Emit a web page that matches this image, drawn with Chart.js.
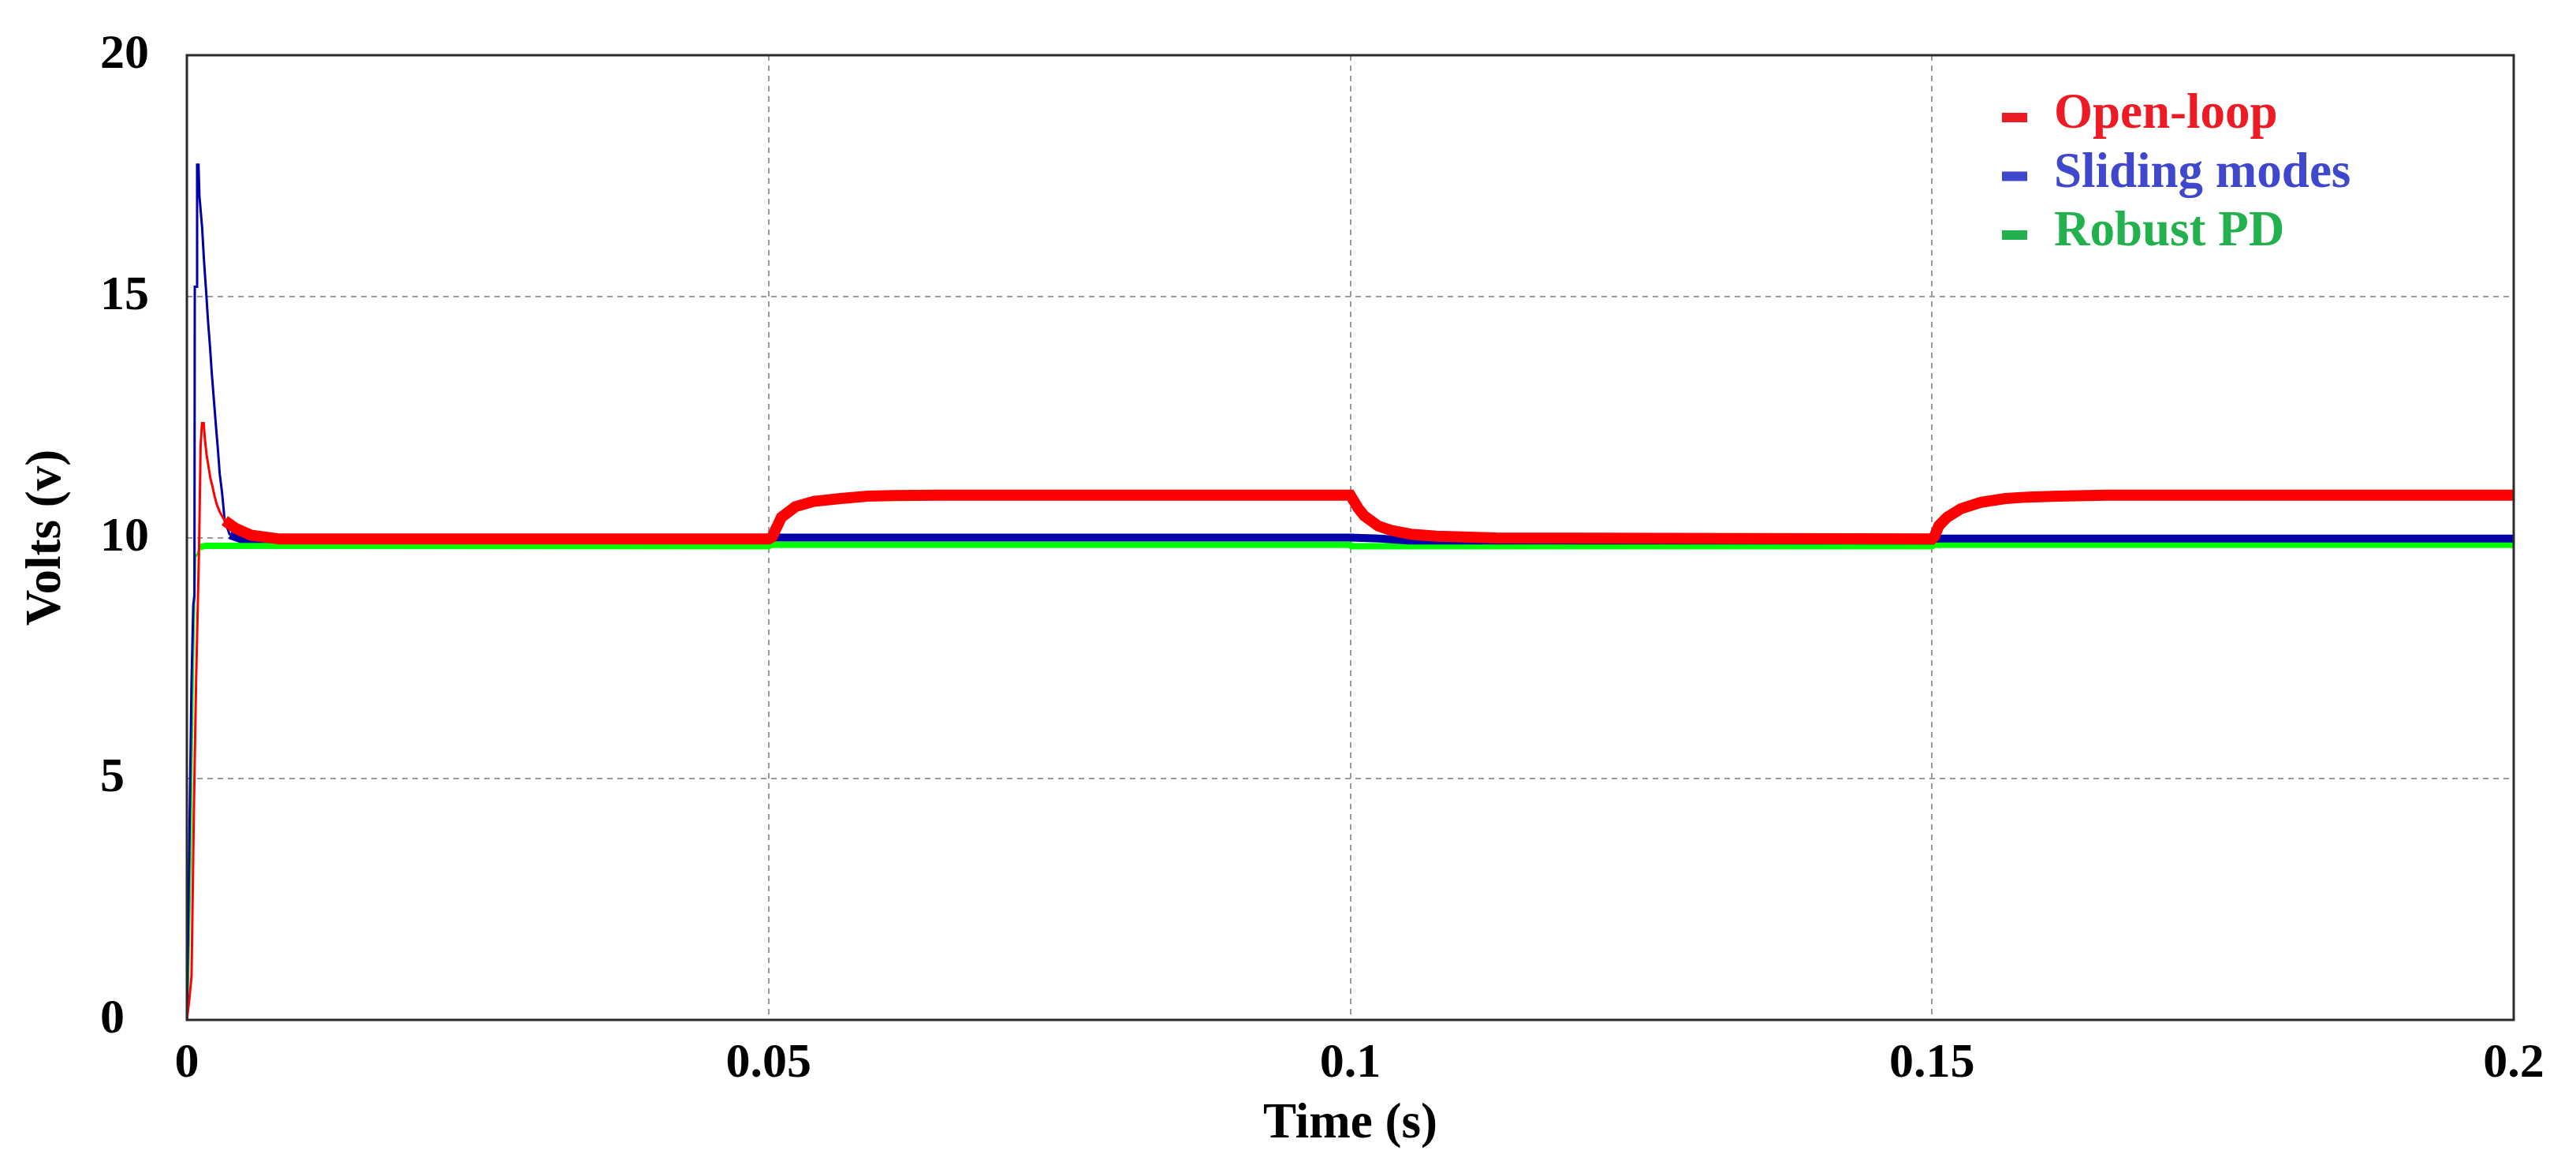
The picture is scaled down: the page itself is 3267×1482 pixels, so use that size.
<!DOCTYPE html>
<html><head><meta charset="utf-8">
<script src="https://cdn.jsdelivr.net/npm/chart.js@4.4.1/dist/chart.umd.min.js"></script>
<style>html,body{margin:0;padding:0;background:#fff;} canvas{display:block;}</style>
</head><body>
<canvas id="c" width="3267" height="1482"></canvas>
<script>
// ---------------- data ----------------
const seriesNames = ['Open-loop', 'Sliding modes', 'Robust PD'];
const xTickValues = [0, 0.05, 0.1, 0.15, 0.2];
const xTickLabels = ['0', '0.05', '0.1', '0.15', '0.2'];
const yTickValues = [0, 5, 10, 15, 20];
const yTickLabels = ['0', '5', '10', '15', '20'];
const xAxisTitle = 'Time (s)';
const yAxisTitle = 'Volts (v)';

const openLoopTime = [0, 0.0002, 0.0004, 0.0006, 0.0008, 0.00105, 0.00118, 0.0013, 0.00145, 0.00155, 0.0017, 0.00188, 0.00203, 0.0022, 0.00237, 0.00258, 0.00285, 0.00325, 0.0042, 0.0055, 0.008, 0.05, 0.0503, 0.0511, 0.0523, 0.0539, 0.0562, 0.0585, 0.0607, 0.0646, 0.1, 0.1007, 0.1012, 0.1024, 0.1035, 0.1052, 0.1074, 0.1125, 0.15, 0.1502, 0.1506, 0.1513, 0.1525, 0.1542, 0.1563, 0.1583, 0.1608, 0.165, 0.2];
const openLoopVolts = [0, 0.4, 0.9, 4.3, 7.1, 9.8, 11.9, 12.37, 12.37, 12.04, 11.71, 11.44, 11.22, 11.06, 10.87, 10.68, 10.52, 10.35, 10.19, 10.05, 9.97, 9.97, 10.01, 10.42, 10.64, 10.75, 10.81, 10.86, 10.87, 10.88, 10.88, 10.6, 10.45, 10.24, 10.15, 10.07, 10.03, 9.99, 9.97, 10.02, 10.25, 10.42, 10.6, 10.73, 10.81, 10.84, 10.86, 10.88, 10.88];

const slidingTime = [0, 0.0004, 0.00055, 0.00065, 0.00068, 0.00085, 0.00088, 0.001, 0.00108, 0.00131, 0.00147, 0.00165, 0.00181, 0.00199, 0.00215, 0.00233, 0.00249, 0.00267, 0.00282, 0.00303, 0.00325, 0.0037, 0.0046, 0.05, 0.0501, 0.1, 0.1025, 0.105, 0.15, 0.1501, 0.2];
const slidingVolts = [0, 7.0, 8.6, 8.8, 15.2, 15.2, 17.73, 17.73, 17.08, 16.43, 15.75, 15.12, 14.52, 13.95, 13.38, 12.83, 12.34, 11.82, 11.33, 10.92, 10.35, 10.05, 9.97, 9.95, 10.0, 10.0, 9.98, 9.94, 9.94, 9.98, 9.98];

const robustTime = [0, 0.0001, 0.0003, 0.0005, 0.0007, 0.0009, 0.0011, 0.0016, 0.05, 0.0501, 0.1, 0.1001, 0.15, 0.1501, 0.2];
const robustVolts = [0, 0.8, 3.3, 7.0, 9.6, 9.65, 9.8, 9.83, 9.82, 9.85, 9.85, 9.82, 9.82, 9.85, 9.85];

// ---------------- chart ----------------
const FONT = "'Liberation Serif', 'Times New Roman', serif";
const toPoints = (t, v) => t.map((x, i) => ({x: x, y: v[i]}));
const widthBySegment = (thinUntil, thin, thick) => (ctx) => (ctx.p0.parsed.x < thinUntil ? thin : thick);

const lineColors = ['#ff0000', '#0000a8', '#00ff00'];
const legendColors = ['#ed1c24', '#3f48cc', '#22b14c'];

const datasets = [
  {label: seriesNames[0], data: toPoints(openLoopTime, openLoopVolts), borderColor: lineColors[0],
   segment: {borderWidth: widthBySegment(0.0029, 3, 14)}},
  {label: seriesNames[1], data: toPoints(slidingTime, slidingVolts), borderColor: lineColors[1],
   segment: {borderWidth: widthBySegment(0.0034, 3, 10)}},
  {label: seriesNames[2], data: toPoints(robustTime, robustVolts), borderColor: lineColors[2],
   segment: {borderWidth: widthBySegment(0.001, 3, 8)}}
].map(d => Object.assign({borderWidth: 3, pointRadius: 0, tension: 0, fill: false, borderCapStyle: 'butt', borderJoinStyle: 'miter'}, d));

const framePlugin = {
  id: 'frame',
  afterDatasetsDraw(chart) {
    const {ctx, chartArea: a} = chart;
    ctx.save();
    ctx.strokeStyle = '#2a2a2a';
    ctx.lineWidth = 3;
    ctx.strokeRect(a.left, a.top, a.right - a.left, a.bottom - a.top);
    ctx.restore();
  }
};

const legendPlugin = {
  id: 'innerLegend',
  afterDraw(chart) {
    const {ctx} = chart;
    ctx.save();
    ctx.font = 'bold 63px ' + FONT;
    ctx.textBaseline = 'middle';
    ctx.textAlign = 'left';
    chart.data.datasets.forEach((ds, i) => {
      const y = 146 + i * 74.5;
      ctx.fillStyle = legendColors[i];
      ctx.fillRect(2539, y - 3, 32, 12);
      ctx.fillText(ds.label, 2605, y);
    });
    ctx.restore();
  }
};

const gridCommon = {color: '#9a9a9a', lineWidth: 2, drawTicks: false};

new Chart(document.getElementById('c'), {
  type: 'line',
  data: {datasets: datasets},
  plugins: [framePlugin, legendPlugin],
  options: {
    responsive: false,
    devicePixelRatio: 1,
    animation: false,
    layout: {padding: {left: 0, right: 79, top: 70, bottom: 0}},
    plugins: {legend: {display: false}, tooltip: {enabled: false}},
    scales: {
      x: {
        type: 'linear', min: 0, max: 0.2,
        grid: gridCommon,
        border: {display: false, dash: [7, 6]},
        afterBuildTicks: s => { s.ticks = xTickValues.map(v => ({value: v})); },
        ticks: {
          color: '#000', padding: 19, maxRotation: 0,
          font: {family: FONT, weight: 'bold', size: 62},
          callback: (v) => xTickLabels[xTickValues.indexOf(v)]
        },
        title: {display: true, text: xAxisTitle, color: '#000',
          font: {family: FONT, weight: 'bold', size: 63}, padding: {top: 0, bottom: 18}},
        afterFit: s => { s.height = 189; }
      },
      y: {
        type: 'linear', min: 0, max: 20, position: 'left', weight: 0,
        grid: gridCommon,
        border: {display: false, dash: [7, 6]},
        afterBuildTicks: s => { s.ticks = yTickValues.map(v => ({value: v})); },
        ticks: {
          color: '#000', padding: 0, crossAlign: 'far', labelOffset: 0,
          font: {family: FONT, weight: 'bold', size: 62},
          callback: (v) => yTickLabels[yTickValues.indexOf(v)]
        },
        afterFit: s => { s.width = 110; }
      },
      yTitle: {
        type: 'linear', position: 'left', weight: 1,
        grid: {display: false}, border: {display: false},
        ticks: {display: false},
        title: {display: true, text: yAxisTitle, color: '#000',
          font: {family: FONT, weight: 'bold', size: 63}, padding: {top: 22, bottom: 0}},
        afterFit: s => { s.width = 127; }
      }
    }
  }
});
</script>
</body></html>
